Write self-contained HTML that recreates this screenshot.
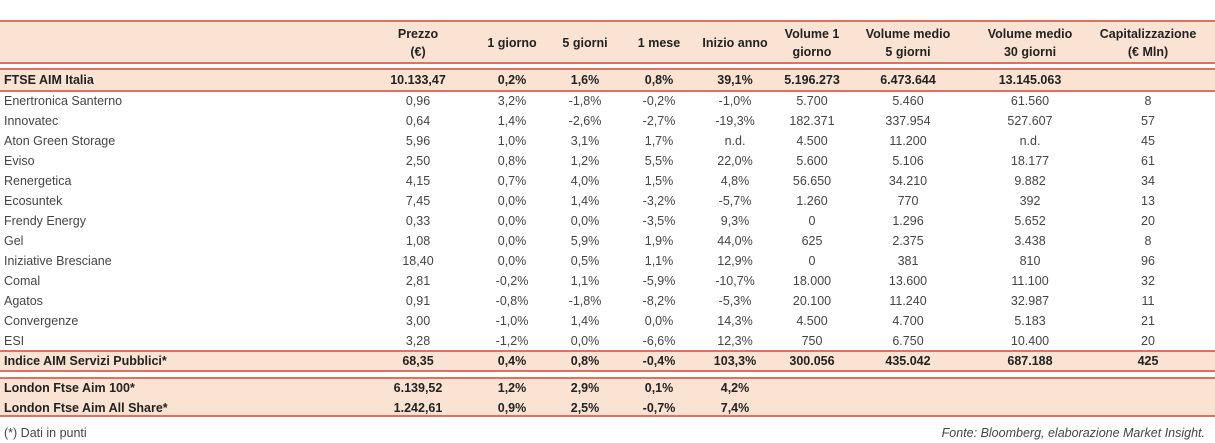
<!DOCTYPE html>
<html><head><meta charset="utf-8"><style>
body{margin:0;width:1215px;height:443px;background:#fff;font-family:"Liberation Sans",sans-serif;color:#222;position:relative;overflow:hidden}
.band{position:absolute;left:0;width:1215px;background:#fbe3d3}
.ln{position:absolute;left:0;width:1215px;background:#e0705f}
.t{position:absolute;font-size:12.5px;white-space:nowrap;line-height:15px}
.c{transform:translateX(-50%);text-align:center}
.b{font-weight:bold}
.g{color:#444}
</style></head><body>
<div class="band" style="top:21px;height:41px"></div>
<div class="ln" style="top:20px;height:2px"></div>
<div class="ln" style="top:62px;height:2px"></div>
<div class="band" style="top:69px;height:21px"></div>
<div class="ln" style="top:68px;height:2px"></div>
<div class="ln" style="top:90px;height:2px"></div>
<div class="band" style="top:352px;height:18px"></div>
<div class="ln" style="top:350px;height:2px"></div>
<div class="ln" style="top:370px;height:2px"></div>
<div class="band" style="top:379px;height:37px"></div>
<div class="ln" style="top:377px;height:2px"></div>
<div class="ln" style="top:415px;height:2px"></div>
<div id="tbl"></div>
<div class="t g" style="left:4px;top:426px">(*) Dati in punti</div>
<div class="t g" style="right:10px;top:426px;font-style:italic">Fonte: Bloomberg, elaborazione Market Insight.</div>
<script>
const cols=[418,512,585,659,735,812,908,1030,1148];
const headers=[["Prezzo","(€)"],["1 giorno"],["5 giorni"],["1 mese"],["Inizio anno"],["Volume 1","giorno"],["Volume medio","5 giorni"],["Volume medio","30 giorni"],["Capitalizzazione","(€ Mln)"]];
const rows=[
["FTSE AIM Italia","10.133,47","0,2%","1,6%","0,8%","39,1%","5.196.273","6.473.644","13.145.063",""],
["Enertronica Santerno","0,96","3,2%","-1,8%","-0,2%","-1,0%","5.700","5.460","61.560","8"],
["Innovatec","0,64","1,4%","-2,6%","-2,7%","-19,3%","182.371","337.954","527.607","57"],
["Aton Green Storage","5,96","1,0%","3,1%","1,7%","n.d.","4.500","11.200","n.d.","45"],
["Eviso","2,50","0,8%","1,2%","5,5%","22,0%","5.600","5.106","18.177","61"],
["Renergetica","4,15","0,7%","4,0%","1,5%","4,8%","56.650","34.210","9.882","34"],
["Ecosuntek","7,45","0,0%","1,4%","-3,2%","-5,7%","1.260","770","392","13"],
["Frendy Energy","0,33","0,0%","0,0%","-3,5%","9,3%","0","1.296","5.652","20"],
["Gel","1,08","0,0%","5,9%","1,9%","44,0%","625","2.375","3.438","8"],
["Iniziative Bresciane","18,40","0,0%","0,5%","1,1%","12,9%","0","381","810","96"],
["Comal","2,81","-0,2%","1,1%","-5,9%","-10,7%","18.000","13.600","11.100","32"],
["Agatos","0,91","-0,8%","-1,8%","-8,2%","-5,3%","20.100","11.240","32.987","11"],
["Convergenze","3,00","-1,0%","1,4%","0,0%","14,3%","4.500","4.700","5.183","21"],
["ESI","3,28","-1,2%","0,0%","-6,6%","12,3%","750","6.750","10.400","20"],
["Indice AIM Servizi Pubblici*","68,35","0,4%","0,8%","-0,4%","103,3%","300.056","435.042","687.188","425"],
["London Ftse Aim 100*","6.139,52","1,2%","2,9%","0,1%","4,2%","","","",""],
["London Ftse Aim All Share*","1.242,61","0,9%","2,5%","-0,7%","7,4%","","","",""]];
const rowY=[80,101,121,141,161,181,201,221,241,261,281,301,321,341,361,388,408];
const bold=[0,14,15,16];
const tbl=document.getElementById('tbl');
function add(txt,x,y,cls,center){
  const d=document.createElement('div');
  d.className='t '+cls+(center?' c':'');
  d.textContent=txt;d.style.left=x+'px';d.style.top=(y-7)+'px';
  tbl.appendChild(d);return d;}
headers.forEach((h,i)=>{
  const y0=h.length==2?34:43;
  h.forEach((s,j)=>{const d=add(s,cols[i],y0+j*18,'b',true);
    
    });
});
rows.forEach((r,i)=>{
  const cls=bold.includes(i)?'b':'g';
  const n=add(r[0],4,rowY[i],cls,false);
  
  
  for(let k=1;k<r.length;k++){ if(!r[k])continue;
    const d=add(r[k],cols[k-1],rowY[i],cls,true);
    
    }
});
</script>
</body></html>
